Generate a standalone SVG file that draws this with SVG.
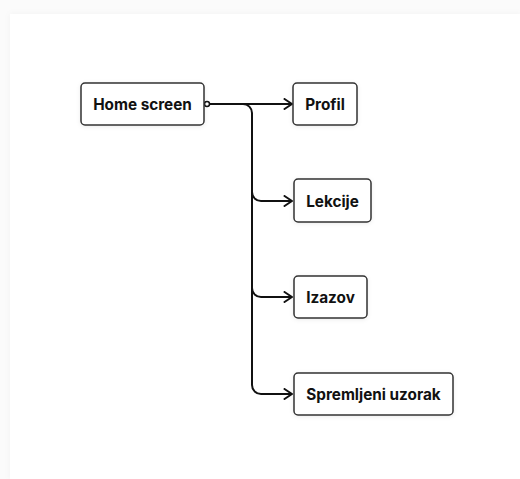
<svg xmlns="http://www.w3.org/2000/svg" width="520" height="479" viewBox="0 0 520 479">
  <defs>
    <filter id="sh" x="-20%" y="-30%" width="140%" height="160%">
      <feDropShadow dx="0" dy="1" stdDeviation="2" flood-color="#000" flood-opacity="0.08"/>
    </filter>
    <filter id="psh" x="-5%" y="-5%" width="110%" height="110%">
      <feDropShadow dx="0" dy="0" stdDeviation="3" flood-color="#000" flood-opacity="0.04"/>
    </filter>
    <marker id="arr" viewBox="0 0 10 12" refX="9" refY="6" markerWidth="10" markerHeight="12" markerUnits="userSpaceOnUse" orient="auto">
      <path d="M1.5 1 L9 6 L1.5 11" fill="none" stroke="#111111" stroke-width="2" stroke-linecap="round" stroke-linejoin="round"/>
    </marker>
  </defs>
  <style>
    .box { fill: #ffffff; stroke: #333333; stroke-width: 1.5; filter: url(#sh); }
    .lbl { font-family: Inter, "Liberation Sans", sans-serif; font-weight: 700; font-size: 15.3px; fill: #111111; text-anchor: middle; dominant-baseline: central; }
    .conn { fill: none; stroke: #111111; stroke-width: 2; }
  </style>
  <rect x="0" y="0" width="520" height="479" fill="#fbfbfb"/>
  <rect x="10" y="14" width="510" height="465" fill="#ffffff" filter="url(#psh)"/>

  <g id="connectors">
    <path class="conn" d="M209.5 104 H292" marker-end="url(#arr)"/>
    <path class="conn" d="M243 104 A9 9 0 0 1 252 113 V385 A9 9 0 0 0 261 394 H292" marker-end="url(#arr)"/>
    <path class="conn" d="M252 192 A9 9 0 0 0 261 201 H292" marker-end="url(#arr)"/>
    <path class="conn" d="M252 288 A9 9 0 0 0 261 297 H292" marker-end="url(#arr)"/>
    <circle cx="207" cy="104" r="2.5" fill="#ffffff" stroke="#111111" stroke-width="1.5"/>
  </g>

  <g id="home-screen">
    <rect class="box" x="81" y="83" width="123" height="42" rx="4"/>
    <text class="lbl" x="142.5" y="104">Home screen</text>
  </g>
  <g id="profil">
    <rect class="box" x="293" y="83" width="64" height="42" rx="4"/>
    <text class="lbl" x="325" y="104">Profil</text>
  </g>
  <g id="lekcije">
    <rect class="box" x="294" y="179" width="77" height="43" rx="4"/>
    <text class="lbl" x="332.5" y="201">Lekcije</text>
  </g>
  <g id="izazov">
    <rect class="box" x="294" y="276" width="73" height="42" rx="4"/>
    <text class="lbl" x="330.5" y="297">Izazov</text>
  </g>
  <g id="spremljeni-uzorak">
    <rect class="box" x="294" y="373" width="159" height="42" rx="4"/>
    <text class="lbl" x="373.5" y="394">Spremljeni uzorak</text>
  </g>
</svg>
